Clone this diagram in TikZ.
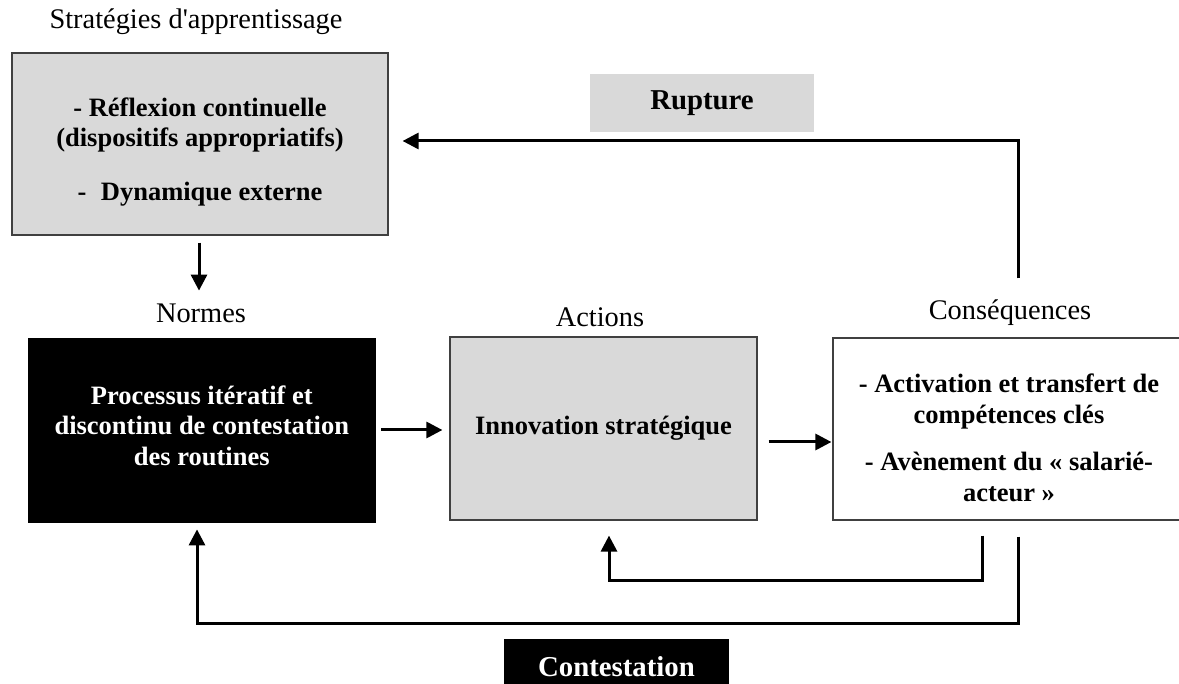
\documentclass[tikz,border=0pt]{standalone}
\usepackage{fontspec}
\newfontfamily\tnr{Liberation Serif}[Ligatures=NoCommon]
\usetikzlibrary{arrows.meta,calc}
\definecolor{panelgray}{RGB}{217,217,217}
\definecolor{rulegray}{RGB}{64,64,64}
\begin{document}
\begin{tikzpicture}[x=0.5pt,y=-0.5pt,
  lbl/.style={inner sep=0pt,font=\tnr\fontsize{14.2}{16}\selectfont},
  body/.style={inner sep=0pt,align=center,font=\tnr\bfseries\fontsize{13.25}{15.3}\selectfont},
  framed/.style={body,draw=rulegray,line width=0.6pt},
  graypanel/.style={framed,fill=panelgray},
  whitepanel/.style={framed,fill=white},
  blackpanel/.style={body,fill=black,text=white},
  tagbox/.style={inner sep=0pt,font=\tnr\bfseries\fontsize{14.4}{16}\selectfont},
  link/.style={line width=1.5pt,-{Triangle[length=8pt,width=8pt]}},
]
\useasboundingbox (0,0) rectangle (1179,684);

% column titles
\node[lbl] (stratlbl) at (196,22) {Stratégies d'apprentissage};
\node[lbl] (normlbl) at (201,313) {Normes};
\node[lbl] (actlbl) at (600,317) {Actions};
\node[lbl] (conslbl) at (1010,313) {Conséquences};

% panels
\node[graypanel,minimum width=188pt,minimum height=91pt] (strat) at (200,144)
  {\rule{0pt}{17pt}- Réflexion continuelle\\(dispositifs appropriatifs)\\[11.5pt]-\hspace{0.55em}Dynamique externe};
\node[blackpanel,minimum width=174pt,minimum height=92.5pt] (norm) at (201.8,430.5)
  {Processus itératif et\\discontinu de contestation\\des routines\rule[-5pt]{0pt}{0pt}};
\node[graypanel,minimum width=153.5pt,minimum height=91.5pt] (act) at (603.5,428.5)
  {Innovation stratégique};
\node[whitepanel,minimum width=176pt,minimum height=91pt] (cons) at (1009,429)
  {\rule{0pt}{18pt}- Activation et transfert de\\compétences clés\\[8.5pt]- Avènement du « salarié-\\acteur »};

% loop tags
\node[tagbox,fill=panelgray,minimum width=112pt,minimum height=29pt] (rupt) at (702,103) {Rupture};
\node[tagbox,fill=black,text=white,minimum width=112.5pt,minimum height=28pt] (contest) at (616.5,667) {Contestation};

% forward links
\draw[link] ($(strat.south)+(-1,7)$) -- ($(strat.south)+(-1,55)$);
\draw[link] ($(norm.east)+(5,-0.5)$) -- ($(act.west |- norm.east)+(-7,-0.5)$);
\draw[link] ($(act.east)+(11,13.5)$) -- ($(act.east -| cons.west)+(-1,13.5)$);

% feedback loops
\draw[link] ($(cons.north)+(9,-59)$) |- ($(strat.east)+(14,-3)$);
\draw[link] ($(cons.south)+(-27,15)$) |- ($(act.south)+(5.5,60)$) -- ($(act.south)+(5.5,15)$);
\draw[link] ($(cons.south)+(9,16)$) |- ($(norm.south)+(-4.8,100)$) -- ($(norm.south)+(-4.8,6)$);
\end{tikzpicture}
\end{document}
